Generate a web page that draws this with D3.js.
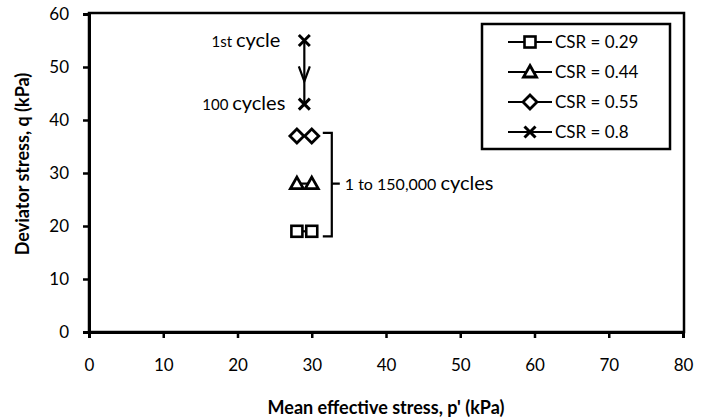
<!DOCTYPE html>
<html>
<head>
<meta charset="utf-8">
<script src="https://cdn.jsdelivr.net/npm/d3@7"></script>
<style>
  body { margin: 0; background: #fff; }
  text { font-family: Lato, "Open Sans", sans-serif; fill: #000; }
</style>
</head>
<body>
<script>
// data
var seriesNames = ['CSR = 0.29', 'CSR = 0.44', 'CSR = 0.55', 'CSR = 0.8'];
var symbols = ['square', 'triangle', 'diamond', 'cross'];
var pValues = [[28, 30], [28, 30], [28, 30], [29, 29]];
var qValues = [[19, 19], [28, 28], [37, 37], [55, 43]];
var xTicks = [0, 10, 20, 30, 40, 50, 60, 70, 80];
var yTicks = [0, 10, 20, 30, 40, 50, 60];

var w = 711, h = 419;
var margin = {left: 89, right: 28, top: 14, bottom: 87};

var svg = d3.select('body').append('svg')
  .attr('width', w)
  .attr('height', h);

var x = d3.scaleLinear().domain([0, 80]).range([margin.left, w - margin.right]);
var y = d3.scaleLinear().domain([0, 60]).range([h - margin.bottom, margin.top]);

// frame
svg.append('rect')
  .attr('x', x(0)).attr('y', y(60) - 1)
  .attr('width', x(80) - x(0) + 1).attr('height', y(0) - y(60) + 1)
  .attr('fill', 'none').attr('stroke', '#000').attr('stroke-width', 2.5);

var xAxis = svg.append('g')
  .attr('transform', 'translate(0,' + y(0) + ')')
  .call(d3.axisBottom(x).tickValues(xTicks).tickSize(6).tickPadding(21));
var yAxis = svg.append('g')
  .attr('transform', 'translate(' + x(0) + ',0)')
  .call(d3.axisLeft(y).tickValues(yTicks).tickSize(6).tickPadding(14));

[xAxis, yAxis].forEach(g => {
  g.select('.domain').attr('stroke-width', 3);
  g.selectAll('.tick line').attr('stroke-width', 2.5);
  g.selectAll('.tick text').style('font-size', '17px').style('font-family', 'Lato, "Open Sans", sans-serif');
});

svg.append('text')
  .attr('x', (x(0) + x(80)) / 2)
  .attr('y', 414)
  .attr('text-anchor', 'middle')
  .style('font-size', '18px').style('font-weight', 'bold')
  .text("Mean effective stress, p' (kPa)");

svg.append('text')
  .attr('transform', 'translate(29,164) rotate(-90)')
  .attr('text-anchor', 'middle')
  .style('font-size', '18px').style('font-weight', 'bold')
  .text('Deviator stress, q (kPa)');

var drawSymbol = (g, type, cx, cy) => {
  if (type === 'square') {
    g.append('rect').attr('x', cx - 5.5).attr('y', cy - 5.5).attr('width', 11).attr('height', 11)
      .attr('fill', '#fff').attr('stroke', '#000').attr('stroke-width', 2.6);
  } else if (type === 'triangle') {
    g.append('path').attr('d', 'M' + cx + ',' + (cy - 6.5) + 'L' + (cx + 6.5) + ',' + (cy + 5) + 'L' + (cx - 6.5) + ',' + (cy + 5) + 'Z')
      .attr('fill', '#fff').attr('stroke', '#000').attr('stroke-width', 2.8).attr('stroke-linejoin', 'miter');
  } else if (type === 'diamond') {
    g.append('path').attr('d', 'M' + cx + ',' + (cy - 7) + 'L' + (cx + 7) + ',' + cy + 'L' + cx + ',' + (cy + 7) + 'L' + (cx - 7) + ',' + cy + 'Z')
      .attr('fill', '#fff').attr('stroke', '#000').attr('stroke-width', 2.8);
  } else {
    g.append('path').attr('d', 'M' + (cx - 5.5) + ',' + (cy - 5.5) + 'L' + (cx + 5.5) + ',' + (cy + 5.5) + 'M' + (cx + 5.5) + ',' + (cy - 5.5) + 'L' + (cx - 5.5) + ',' + (cy + 5.5))
      .attr('fill', 'none').attr('stroke', '#000').attr('stroke-width', 3);
  }
};

var line = d3.line().x(d => x(d[0])).y(d => y(d[1]));

seriesNames.forEach((name, i) => {
  var pts = pValues[i].map((p, j) => [p, qValues[i][j]]);
  var g = svg.append('g');
  g.append('path').attr('d', line(pts)).attr('fill', 'none').attr('stroke', '#000').attr('stroke-width', 2.2);
  pts.forEach(d => drawSymbol(g, symbols[i], x(d[0]), y(d[1])));
});

// arrow from 1st cycle to 100 cycles
var ax = x(29);
var tipY = y(47.3);
svg.append('path')
  .attr('d', 'M' + (ax - 5.5) + ',' + (tipY - 15) + 'L' + ax + ',' + tipY + 'L' + (ax + 5.5) + ',' + (tipY - 15))
  .attr('fill', 'none').attr('stroke', '#000').attr('stroke-width', 2.2);

var ann1 = svg.append('text').attr('x', x(29) - 24).attr('y', y(55) + 6).attr('text-anchor', 'end');
ann1.append('tspan').style('font-size', '15px').text('1st ');
ann1.append('tspan').style('font-size', '20px').text('cycle');

var ann2 = svg.append('text').attr('x', x(29) - 19).attr('y', y(43) + 6).attr('text-anchor', 'end');
ann2.append('tspan').style('font-size', '15px').text('100 ');
ann2.append('tspan').style('font-size', '20px').text('cycles');

// bracket for 1 to 150,000 cycles
var bx = x(32.7);
svg.append('path')
  .attr('d', 'M' + (bx - 9) + ',' + (y(37) - 3) + 'L' + bx + ',' + (y(37) - 3) + 'L' + bx + ',' + (y(19) + 5) + 'L' + (bx - 9) + ',' + (y(19) + 5)
    + 'M' + bx + ',' + y(28) + 'L' + (bx + 8) + ',' + y(28))
  .attr('fill', 'none').attr('stroke', '#000').attr('stroke-width', 2.2);

var ann3 = svg.append('text').attr('x', bx + 13).attr('y', y(28) + 6);
ann3.append('tspan').style('font-size', '16px').text('1 to 150,000 ');
ann3.append('tspan').style('font-size', '20px').text('cycles');

// legend
var lg = svg.append('g');
lg.append('rect').attr('x', 482).attr('y', 24).attr('width', 188).attr('height', 125)
  .attr('fill', '#fff').attr('stroke', '#000').attr('stroke-width', 2.5);
seriesNames.forEach((name, i) => {
  var ly = 42 + i * 30;
  lg.append('line').attr('x1', 508).attr('x2', 552).attr('y1', ly).attr('y2', ly)
    .attr('stroke', '#000').attr('stroke-width', 2.2);
  drawSymbol(lg, symbols[i], 530, ly);
  lg.append('text').attr('x', 555).attr('y', ly + 6).style('font-size', '17px').text(name);
});
</script>
</body>
</html>
